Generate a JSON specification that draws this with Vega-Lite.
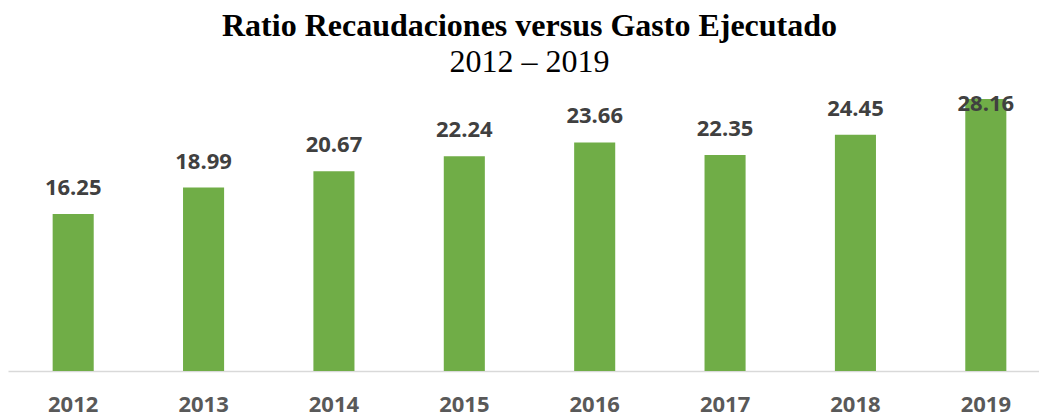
{
  "$schema": "https://vega.github.io/schema/vega-lite/v6.json",
  "autosize": "none",
  "width": 1043,
  "height": 272,
  "padding": {"left": 8, "top": 99, "right": 0, "bottom": 45},
  "background": "white",
  "config": {"view": {"stroke": null}},
  "title": {
    "text": "Ratio Recaudaciones versus Gasto Ejecutado",
    "subtitle": "2012 – 2019",
    "font": "Liberation Serif",
    "fontSize": 32,
    "fontWeight": "bold",
    "color": "#000000",
    "subtitleFont": "Liberation Serif",
    "subtitleFontSize": 32,
    "subtitleFontWeight": "normal",
    "subtitleColor": "#000000",
    "subtitlePadding": 4,
    "anchor": "middle",
    "offset": 14
  },
  "data": {
    "values": [
      {"year": "2012", "ratio": 16.25},
      {"year": "2013", "ratio": 18.99},
      {"year": "2014", "ratio": 20.67},
      {"year": "2015", "ratio": 22.24},
      {"year": "2016", "ratio": 23.66},
      {"year": "2017", "ratio": 22.35},
      {"year": "2018", "ratio": 24.45},
      {"year": "2019", "ratio": 28.16}
    ]
  },
  "encoding": {
    "x": {
      "field": "year",
      "type": "ordinal",
      "scale": {"paddingInner": 0.685, "paddingOuter": 0.3425},
      "axis": {
        "title": null,
        "labelAngle": 0,
        "ticks": false,
        "labelPadding": 23,
        "labelFont": "Open Sans",
        "labelFontSize": 22,
        "labelFontWeight": "bold",
        "labelColor": "#595959",
        "domainColor": "#D9D9D9",
        "domainWidth": 1.5
      }
    },
    "y": {
      "field": "ratio",
      "type": "quantitative",
      "scale": {"domain": [0, 28.16], "nice": false},
      "axis": null
    }
  },
  "layer": [
    {"mark": {"type": "bar", "color": "#70AD47"}},
    {
      "transform": [{"filter": "datum.ratio < 28"}],
      "mark": {"type": "text", "baseline": "alphabetic", "dy": -19, "font": "Open Sans", "fontSize": 22, "fontWeight": "bold", "color": "#404040"},
      "encoding": {"text": {"field": "ratio", "type": "quantitative", "format": ".2f"}}
    },
    {
      "transform": [{"filter": "datum.ratio >= 28"}],
      "mark": {"type": "text", "baseline": "alphabetic", "dy": 12, "font": "Open Sans", "fontSize": 22, "fontWeight": "bold", "color": "#404040"},
      "encoding": {"text": {"field": "ratio", "type": "quantitative", "format": ".2f"}}
    }
  ]
}
